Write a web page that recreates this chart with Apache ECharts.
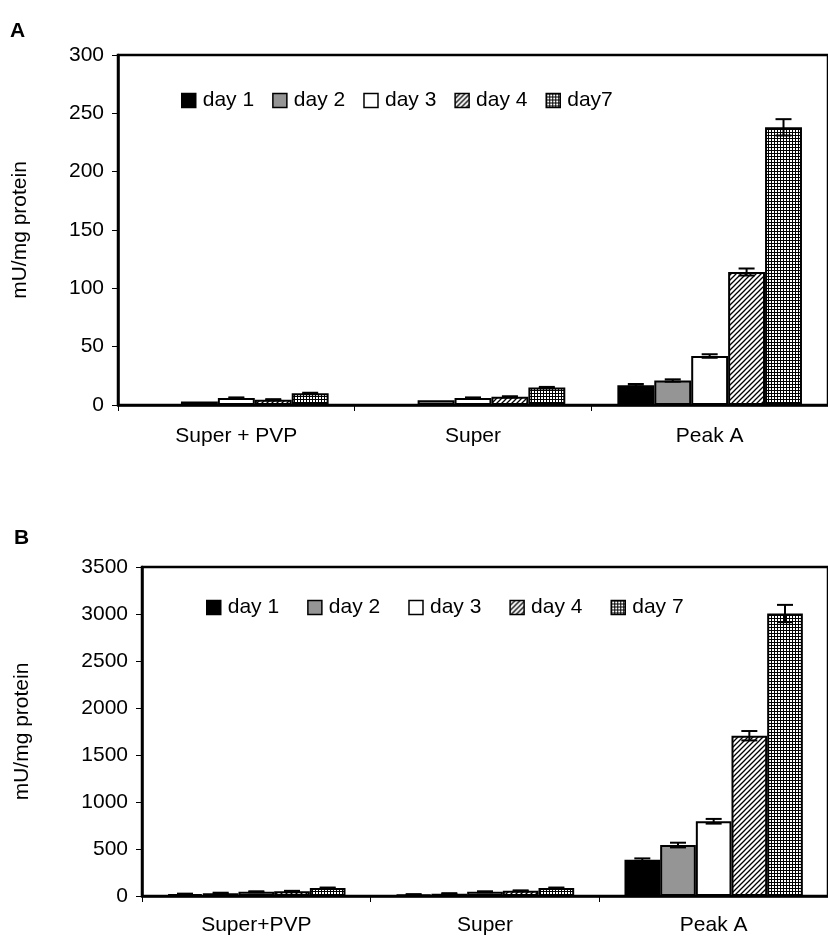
<!DOCTYPE html>
<html>
<head>
<meta charset="utf-8">
<script src="https://cdn.jsdelivr.net/npm/echarts@6/dist/echarts.min.js"></script>
<style>
html,body{margin:0;padding:0;background:#fff;}
#main{width:828px;height:941px;}
</style>
</head>
<body>
<div id="main"></div>
<script>
// categories / legend names
var categoriesA = ['Super + PVP', 'Super', 'Peak A'];
var categoriesB = ['Super+PVP', 'Super', 'Peak A'];
var daysA = ['day 1', 'day 2', 'day 3', 'day 4', 'day7'];
var daysB = ['day 1', 'day 2', 'day 3', 'day 4', 'day 7'];

// panel A values (mU/mg protein)
var aDay1 = [0, 0, 17];
var aDay2 = [3, 4, 21];
var aDay3 = [6, 6, 42];
var aDay4 = [4.5, 7, 114];
var aDay7 = [10, 15, 238];
// panel A error (+/-)
var aErr1 = [0, 0, 1];
var aErr2 = [0, 0, 1];
var aErr3 = [0.5, 0.5, 1.5];
var aErr4 = [0.5, 0.5, 3];
var aErr7 = [0.5, 0.5, 7];

// panel B values
var bDay1 = [20, 15, 385];
var bDay2 = [30, 25, 542];
var bDay3 = [45, 45, 795];
var bDay4 = [50, 55, 1705];
var bDay7 = [85, 85, 3005];
// panel B error
var bErr1 = [5, 5, 15];
var bErr2 = [5, 5, 25];
var bErr3 = [5, 5, 25];
var bErr4 = [5, 5, 50];
var bErr7 = [5, 5, 92];

var yTicksA = {min: 0, max: 300, interval: 50};
var yTicksB = {min: 0, max: 3500, interval: 500};

var FONT = '"Liberation Sans", Arial, sans-serif';
var GAP = 0.22; // barCategoryGap

// fill patterns
function makeCanvas(w, h, draw){
    var c = document.createElement('canvas');
    c.width = w; c.height = h;
    draw(c.getContext('2d'));
    return c;
}
var hatch = makeCanvas(5, 5, function(ctx){
    ctx.fillStyle = '#fff'; ctx.fillRect(0, 0, 5, 5);
    ctx.strokeStyle = '#000'; ctx.lineWidth = 1.3;
    ctx.beginPath();
    ctx.moveTo(0, 5); ctx.lineTo(5, 0);
    ctx.moveTo(-1, 1); ctx.lineTo(1, -1);
    ctx.moveTo(4, 6); ctx.lineTo(6, 4);
    ctx.stroke();
});
var grid = makeCanvas(3, 3, function(ctx){
    ctx.fillStyle = '#000'; ctx.fillRect(0, 0, 3, 3);
    ctx.fillStyle = '#fff'; ctx.fillRect(1, 1, 2, 2);
});
var fills = [
    '#000',
    '#959595',
    '#fff',
    {image: hatch, repeat: 'repeat'},
    {image: grid, repeat: 'repeat'}
];

function errRender(k){
    return function(params, api){
        var xi = api.value(0), v = api.value(1), e = api.value(2);
        if (!e) return;
        var band = api.size([1, 0])[0];
        var groupW = band * (1 - GAP);
        var barW = groupW / 5;
        var cx = api.coord([xi, v])[0] - groupW / 2 + (k + 0.5) * barW;
        var top = api.coord([xi, v + e])[1];
        var bot = api.coord([xi, v - e])[1];
        var cap = 8;
        var st = {stroke: '#000', lineWidth: 2};
        return {type: 'group', children: [
            {type: 'line', shape: {x1: cx, y1: top, x2: cx, y2: bot}, style: st},
            {type: 'line', shape: {x1: cx - cap, y1: top, x2: cx + cap, y2: top}, style: st},
            {type: 'line', shape: {x1: cx - cap, y1: bot, x2: cx + cap, y2: bot}, style: st}
        ]};
    };
}

function panelSeries(p, names, vals, errs){
    var out = [];
    for (var k = 0; k < 5; k++) {
        out.push({
            name: names[k],
            type: 'bar',
            xAxisIndex: p, yAxisIndex: p,
            data: vals[k],
            barGap: '0%',
            barCategoryGap: (GAP * 100) + '%',
            itemStyle: {color: fills[k], borderColor: '#000', borderWidth: 2},
            silent: true
        });
    }
    for (var k2 = 0; k2 < 5; k2++) {
        var d = vals[k2].map(function(v, i){ return [i, v, errs[k2][i]]; });
        out.push({
            name: 'err' + p + k2,
            type: 'custom',
            xAxisIndex: p, yAxisIndex: p,
            renderItem: errRender(k2),
            encode: {x: 0, y: 1},
            data: d,
            z: 5,
            silent: true
        });
    }
    return out;
}

function xAx(p, cats, margin){
    return {
        type: 'category', gridIndex: p, data: cats,
        axisLine: {lineStyle: {color: '#000', width: 2.5}},
        axisTick: {show: true, length: 6, lineStyle: {color: '#000', width: 1}},
        axisLabel: {color: '#000', fontSize: 21, fontFamily: FONT, margin: margin}
    };
}
function yAx(p, t, gap){
    return {
        type: 'value', gridIndex: p, min: t.min, max: t.max, interval: t.interval,
        name: 'mU/mg protein', nameLocation: 'middle', nameGap: gap,
        nameTextStyle: {color: '#000', fontSize: 21, fontFamily: FONT},
        splitLine: {show: false},
        axisLine: {show: true, lineStyle: {color: '#000', width: 2.5}},
        axisTick: {show: true, length: 6, lineStyle: {color: '#000', width: 1}},
        axisLabel: {color: '#000', fontSize: 21, fontFamily: FONT, margin: 14,
                    formatter: function(v){ return String(v); }}
    };
}

var chart = echarts.init(document.getElementById('main'));
chart.setOption({
    backgroundColor: '#fff',
    animation: false,
    grid: [
        {left: 118, top: 55, width: 722, height: 350, show: true, borderColor: '#000', borderWidth: 2.5},
        {left: 142, top: 567, width: 706, height: 329, show: true, borderColor: '#000', borderWidth: 2.5}
    ],
    graphic: [
        {type: 'text', left: 10, top: 21, style: {text: 'A', fontSize: 21, fontWeight: 'bold', fontFamily: FONT, fill: '#000'}},
        {type: 'text', left: 14, top: 528, style: {text: 'B', fontSize: 21, fontWeight: 'bold', fontFamily: FONT, fill: '#000'}}
    ],
    legend: [
        {data: daysA, left: 176, top: 85, itemWidth: 14, itemHeight: 14, itemGap: 18,
         icon: 'rect', itemStyle: {borderColor: '#000', borderWidth: 1.5},
         textStyle: {color: '#000', fontSize: 21, fontFamily: FONT, padding: [0, 0, 0, 2]}},
        {data: daysB, left: 201, top: 592, itemWidth: 14, itemHeight: 14, itemGap: 28,
         icon: 'rect', itemStyle: {borderColor: '#000', borderWidth: 1.5},
         textStyle: {color: '#000', fontSize: 21, fontFamily: FONT, padding: [0, 0, 0, 2]}}
    ],
    xAxis: [xAx(0, categoriesA, 21), xAx(1, categoriesB, 19)],
    yAxis: [yAx(0, yTicksA, 87), yAx(1, yTicksB, 109)],
    series: panelSeries(0, daysA, [aDay1, aDay2, aDay3, aDay4, aDay7], [aErr1, aErr2, aErr3, aErr4, aErr7])
        .concat(panelSeries(1, daysB, [bDay1, bDay2, bDay3, bDay4, bDay7], [bErr1, bErr2, bErr3, bErr4, bErr7]))
});
</script>
</body>
</html>
